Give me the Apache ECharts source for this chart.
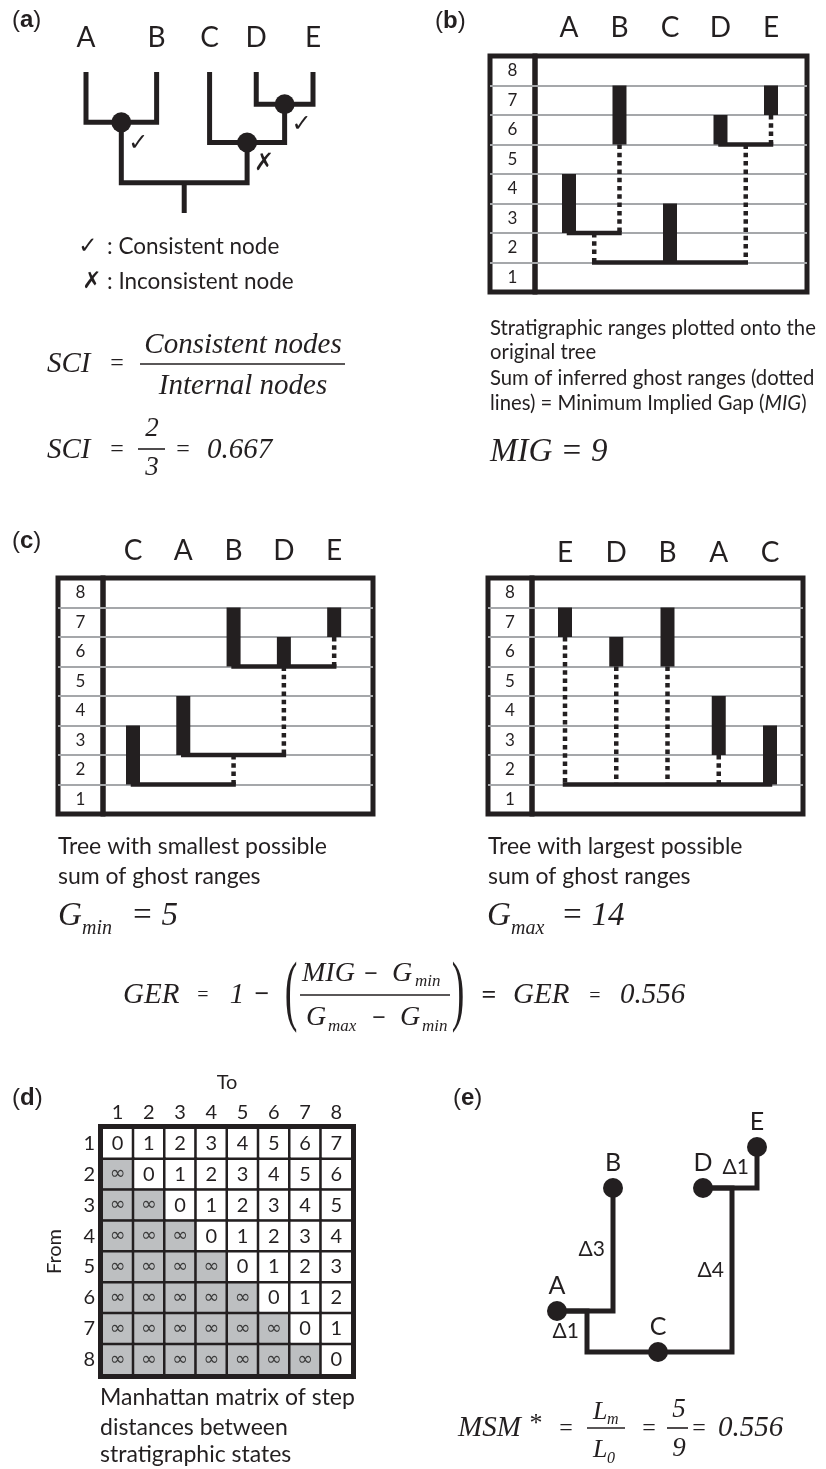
<!DOCTYPE html>
<html>
<head>
<meta charset="utf-8">
<title>Stratigraphic congruence indices</title>
<script src="https://cdn.jsdelivr.net/npm/echarts@6.0.0/dist/echarts.min.js"></script>
<style>
  html, body { margin: 0; padding: 0; background: #fff; }
  #chart { width: 826px; height: 1469px; }
</style>
</head>
<body>
<div id="chart"></div>
<script>
// ---------- data ----------
// (a) original tree: tips, internal nodes (children + node height), consistency marks
var treeTips = ['A', 'B', 'C', 'D', 'E'];
var treeTipSlot = [0, 2.8, 4.9, 6.75, 9];
var treeTipHeight = 14;
var treeNodes = ['AB', 'DE', 'CDE', 'root'];
var treeNodeKids = [['A', 'B'], ['D', 'E'], ['C', 'DE'], ['AB', 'CDE']];
var treeNodeHeight = [9, 10.8, 7, 3];
var treeNodeMark = ['\u2713', '\u2713', '\u2717', ''];

// (b) and (c) stratigraphic ranges, state boundaries on a 0-8 scale
var stateLabels = ['1', '2', '3', '4', '5', '6', '7', '8'];

var origOrder = ['A', 'B', 'C', 'D', 'E'];
var origBase = [2, 5, 1, 5, 6];
var origTop = [4, 7, 3, 6, 7];
var origBranches = [[1, 2, 2], [4, 5, 5], [1.5, 4.5, 1]];           // [from column, to column, level]
var origGhosts = [[2, 2, 5], [5, 5, 6], [1.5, 1, 2], [4.5, 1, 5]];  // [column, from, to]

var minOrder = ['C', 'A', 'B', 'D', 'E'];
var minBase = [1, 2, 5, 5, 6];
var minTop = [3, 4, 7, 6, 7];
var minBranches = [[1, 3, 1], [2, 4, 2], [3, 5, 5]];
var minGhosts = [[3, 1, 2], [4, 2, 5], [5, 5, 6]];

var maxOrder = ['E', 'D', 'B', 'A', 'C'];
var maxBase = [6, 5, 5, 2, 1];
var maxTop = [7, 6, 7, 4, 3];
var maxBranches = [[1, 5, 1]];
var maxGhosts = [[1, 1, 6], [2, 1, 5], [3, 1, 5], [4, 1, 2]];

// (d) Manhattan step matrix, from (rows) -> to (columns)
var matrixStates = ['1', '2', '3', '4', '5', '6', '7', '8'];
var stepMatrix = [
    ['0', '1', '2', '3', '4', '5', '6', '7'],
    ['\u221e', '0', '1', '2', '3', '4', '5', '6'],
    ['\u221e', '\u221e', '0', '1', '2', '3', '4', '5'],
    ['\u221e', '\u221e', '\u221e', '0', '1', '2', '3', '4'],
    ['\u221e', '\u221e', '\u221e', '\u221e', '0', '1', '2', '3'],
    ['\u221e', '\u221e', '\u221e', '\u221e', '\u221e', '0', '1', '2'],
    ['\u221e', '\u221e', '\u221e', '\u221e', '\u221e', '\u221e', '0', '1'],
    ['\u221e', '\u221e', '\u221e', '\u221e', '\u221e', '\u221e', '\u221e', '0']
];

// (e) minimum spanning tree of the states
var msmTaxa = ['A', 'B', 'C', 'D', 'E'];
var msmState = [1, 4, 0, 4, 5];
var msmSlot = [0, 2.8, 5.05, 7.3, 10];
var msmLinks = [['A', 'B'], ['A', 'C'], ['C', 'D'], ['D', 'E']];
var msmSteps = [3, 1, 4, 1];
var msmElbow = [2.8, 1.5, 8.75, 10];

// ---------- styles ----------
var INK = '#231f20';
var RULE = '#a5a7aa';
var INF_FILL = '#bdbfc1';
var SANS = 'Lato, "Open Sans", sans-serif';
var SERIF = '"Liberation Serif", "DejaVu Serif", serif';
var ARIAL = '"Liberation Sans", Arial, sans-serif';
var SYM = '"DejaVu Sans", sans-serif';

var grids = [], xAxes = [], yAxes = [], series = [], graphics = [];

function addGrid(rect, xa, ya) {
    rect.outerBoundsMode = 'none';
    rect.containLabel = false;
    grids.push(rect);
    xa.gridIndex = ya.gridIndex = grids.length - 1;
    xAxes.push(xa);
    yAxes.push(ya);
    return grids.length - 1;
}

function boxGrid(left, top, width, height, bw) {
    return { left: left, top: top, width: width, height: height, show: true,
             borderColor: INK, borderWidth: bw || 5, backgroundColor: 'rgba(0,0,0,0)' };
}

function textStyle(s, o) {
    o = o || {};
    var al = o.align || 'left';
    return {
        text: s, fill: INK,
        fontFamily: o.family || SANS, fontSize: o.size || 20,
        fontStyle: o.italic ? 'italic' : 'normal', fontWeight: o.bold ? 'bold' : 'normal',
        align: al, textAlign: al, verticalAlign: 'middle', textVerticalAlign: 'middle',
        rich: o.rich
    };
}

function addText(x, y, s, o) {
    o = o || {};
    graphics.push({ type: 'text', x: x, y: y, silent: true, scaleY: o.scaleY || 1, style: textStyle(s, o) });
}

function addRule(x1, x2, y, w) {
    graphics.push({ type: 'line', silent: true, shape: { x1: x1, y1: y, x2: x2, y2: y },
                    style: { stroke: INK, lineWidth: w || 1.5 } });
}

function segmentSeries(idx, segs, style, z) {
    return {
        type: 'custom', xAxisIndex: idx, yAxisIndex: idx, silent: true, z: z || 3,
        data: segs,
        renderItem: function (params, api) {
            var p = api.coord([api.value(0), api.value(1)]);
            var q = api.coord([api.value(2), api.value(3)]);
            return { type: 'line', shape: { x1: p[0], y1: p[1], x2: q[0], y2: q[1] }, style: style };
        }
    };
}

function textSeries(idx, pts, labels, dx, dy, o) {
    return {
        type: 'custom', xAxisIndex: idx, yAxisIndex: idx, silent: true, z: 6,
        data: pts,
        renderItem: function (params, api) {
            var p = api.coord([api.value(0), api.value(1)]);
            return { type: 'text', x: p[0] + dx, y: p[1] + dy, style: textStyle(labels[params.dataIndex], o) };
        }
    };
}

// ---------- (a) original tree ----------
var treePos = {};
treeTips.forEach(function (n, i) { treePos[n] = [treeTipSlot[i], treeTipHeight]; });
treeNodes.forEach(function (n, i) {
    var k1 = treePos[treeNodeKids[i][0]], k2 = treePos[treeNodeKids[i][1]];
    treePos[n] = [(k1[0] + k2[0]) / 2, treeNodeHeight[i]];
});

var ga = addGrid({ left: 86, top: 72, width: 227, height: 141, show: false },
    { type: 'value', min: 0, max: 9, show: false },
    { type: 'value', min: 0, max: 14, show: false });

series.push({
    type: 'custom', xAxisIndex: ga, yAxisIndex: ga, silent: true, z: 3,
    data: treeNodes.map(function (n, i) {
        var k1 = treePos[treeNodeKids[i][0]], k2 = treePos[treeNodeKids[i][1]];
        return [k1[0], k1[1], k2[0], k2[1], treeNodeHeight[i]];
    }),
    renderItem: function (params, api) {
        var a = api.coord([api.value(0), api.value(1)]);
        var na = api.coord([api.value(0), api.value(4)]);
        var nb = api.coord([api.value(2), api.value(4)]);
        var b = api.coord([api.value(2), api.value(3)]);
        return { type: 'polyline', shape: { points: [a, na, nb, b] },
                 style: { stroke: INK, lineWidth: 5, fill: null, lineJoin: 'miter' } };
    }
});
series.push(segmentSeries(ga, [[treePos.root[0], treePos.root[1], treePos.root[0], 0]],
    { stroke: INK, lineWidth: 5 }, 3));
series.push({
    type: 'scatter', xAxisIndex: ga, yAxisIndex: ga, silent: true, z: 5,
    symbolSize: 20, itemStyle: { color: INK, opacity: 1 },
    data: treeNodes.filter(function (n, i) { return treeNodeMark[i]; })
        .map(function (n) { return treePos[n]; }),
    label: { show: true, position: 'inside', offset: [17, 21], color: INK, opacity: 1,
             fontFamily: SYM, fontSize: 24,
             formatter: function (p) { return treeNodeMark[p.dataIndex]; } }
});
series.push(textSeries(ga, treeTips.map(function (n) { return treePos[n]; }), treeTips, 0, -34, { size: 28, align: 'center' }));

// ---------- (b), (c) range panels ----------
function rangePanel(box, order, base, top, branches, ghosts, colMin, colMax, letterDy) {
    addGrid(boxGrid(box.left, box.top, box.labelWidth, box.height),
        { type: 'value', min: 0, max: 1, show: false },
        { type: 'category', data: stateLabels, boundaryGap: true,
          axisLine: { show: false }, axisTick: { show: false },
          axisLabel: { inside: true, margin: box.labelWidth / 2, align: 'center', interval: 0,
                       fontFamily: SANS, fontSize: 17, color: INK },
          splitLine: { show: true, interval: 0, showMinLine: false, showMaxLine: false,
                       lineStyle: { color: RULE, width: 2 } } });
    var pg = addGrid(boxGrid(box.left + box.labelWidth, box.top, box.width - box.labelWidth, box.height),
        { type: 'value', min: colMin, max: colMax, show: false },
        { type: 'value', min: 0, max: 8, interval: 1,
          axisLine: { show: false }, axisTick: { show: false }, axisLabel: { show: false },
          splitLine: { show: true, showMinLine: false, showMaxLine: false,
                       lineStyle: { color: RULE, width: 2 } } });

    series.push(segmentSeries(pg, ghosts.map(function (g) { return [g[0], g[2], g[0], g[1]]; }),
        { stroke: INK, lineWidth: 4.5, lineDash: [4.5, 3.8] }, 2));
    series.push(segmentSeries(pg, branches.map(function (b) { return [b[0], b[2], b[1], b[2]]; }),
        { stroke: INK, lineWidth: 4.5, lineCap: 'square' }, 3));
    series.push({
        type: 'custom', xAxisIndex: pg, yAxisIndex: pg, silent: true, z: 4,
        data: order.map(function (n, i) { return [i + 1, base[i], top[i]]; }),
        renderItem: function (params, api) {
            var t = api.coord([api.value(0), api.value(2)]);
            var b = api.coord([api.value(0), api.value(1)]);
            return { type: 'rect', shape: { x: t[0] - 7, y: t[1], width: 14, height: b[1] - t[1] },
                     style: { fill: INK } };
        }
    });
    series.push(textSeries(pg, order.map(function (n, i) { return [i + 1, 8]; }), order, 0, letterDy,
        { size: 28, align: 'center' }));
}

rangePanel({ left: 490, top: 56, width: 317, height: 236, labelWidth: 45 },
    origOrder, origBase, origTop, origBranches, origGhosts, 0.327, 5.713, -28);
rangePanel({ left: 58, top: 578, width: 315, height: 236, labelWidth: 45 },
    minOrder, minBase, minTop, minBranches, minGhosts, 0.404, 5.772, -27);
rangePanel({ left: 488, top: 578, width: 315, height: 236, labelWidth: 44 },
    maxOrder, maxBase, maxTop, maxBranches, maxGhosts, 0.356, 5.644, -25);

// ---------- (d) step matrix ----------
var gd = addGrid(boxGrid(102, 1128, 250, 247, 8),
    { type: 'category', position: 'top', data: matrixStates,
      name: 'To', nameLocation: 'middle', nameGap: 35,
      nameTextStyle: { fontFamily: SANS, fontSize: 20, color: INK },
      axisLine: { show: false }, axisTick: { show: false }, splitLine: { show: false },
      axisLabel: { interval: 0, margin: 5, fontFamily: SANS, fontSize: 20, color: INK } },
    { type: 'category', inverse: true, data: matrixStates,
      name: 'From', nameLocation: 'middle', nameGap: 37, nameRotate: 90,
      nameTextStyle: { fontFamily: SANS, fontSize: 20, color: INK },
      axisLine: { show: false }, axisTick: { show: false }, splitLine: { show: false },
      axisLabel: { interval: 0, margin: 7, fontFamily: SANS, fontSize: 20, color: INK } });

var cells = [];
stepMatrix.forEach(function (row, i) {
    row.forEach(function (v, j) {
        var inf = v === '\u221e';
        cells.push({ value: [j, i, inf ? -1 : Number(v)],
                     itemStyle: { color: inf ? INF_FILL : '#ffffff' },
                     label: inf ? { fontSize: 19, fontFamily: SYM, color: '#3a3a3a' } : { fontSize: 20 } });
    });
});
series.push({
    type: 'heatmap', xAxisIndex: gd, yAxisIndex: gd, silent: true, z: 3,
    data: cells,
    itemStyle: { borderColor: INK, borderWidth: 2.5 },
    emphasis: { disabled: true },
    label: { show: true, color: INK, fontFamily: SANS,
             formatter: function (p) { return stepMatrix[p.value[1]][p.value[0]]; } }
});

// ---------- (e) MSM tree ----------
var ge = addGrid({ left: 557, top: 1147, width: 200, height: 205, show: false },
    { type: 'value', min: 0, max: 10, show: false },
    { type: 'value', min: 0, max: 5, show: false });

function msmIdx(n) { return msmTaxa.indexOf(n); }
series.push({
    type: 'custom', xAxisIndex: ge, yAxisIndex: ge, silent: true, z: 3,
    data: msmLinks.map(function (l, i) {
        var a = msmIdx(l[0]), b = msmIdx(l[1]);
        return [msmSlot[a], msmState[a], msmSlot[b], msmState[b], msmElbow[i], msmSteps[i]];
    }),
    renderItem: function (params, api) {
        var p = api.coord([api.value(0), api.value(1)]);
        var e1 = api.coord([api.value(4), api.value(1)]);
        var e2 = api.coord([api.value(4), api.value(3)]);
        var q = api.coord([api.value(2), api.value(3)]);
        return { type: 'group', children: [
            { type: 'polyline', shape: { points: [p, e1, e2, q] },
              style: { stroke: INK, lineWidth: 5, fill: null, lineJoin: 'miter' } },
            { type: 'text', x: e1[0] - 8, y: (e1[1] + e2[1]) / 2,
              style: textStyle('\u0394' + api.value(5), { size: 21, align: 'right' }) }
        ] };
    }
});
series.push({
    type: 'scatter', xAxisIndex: ge, yAxisIndex: ge, silent: true, z: 5,
    symbolSize: 20, itemStyle: { color: INK, opacity: 1 },
    data: msmTaxa.map(function (n, i) { return [msmSlot[i], msmState[i]]; }),
    label: { show: true, position: 'top', distance: 3, color: INK, opacity: 1,
             fontFamily: SANS, fontSize: 25,
             formatter: function (p) { return msmTaxa[p.dataIndex]; } }
});

// ---------- text: panel letters, captions, formulas ----------
var letterRich = { b: { fontWeight: 'bold', fontSize: 24, fontFamily: ARIAL, fill: INK } };
addText(12, 20, '({b|a})', { family: ARIAL, size: 24, rich: letterRich });
addText(435, 21, '({b|b})', { family: ARIAL, size: 24, rich: letterRich });
addText(12, 541, '({b|c})', { family: ARIAL, size: 24, rich: letterRich });
addText(12, 1098, '({b|d})', { family: ARIAL, size: 24, rich: letterRich });
addText(453, 1098, '({b|e})', { family: ARIAL, size: 24, rich: letterRich });

// (a) legend + SCI
addText(88, 247, '\u2713', { family: SYM, size: 23, align: 'center' });
addText(107, 247, ': Consistent node', { size: 22.5 });
addText(92, 282, '\u2717', { family: SYM, size: 23, align: 'center' });
addText(107, 282, ': Inconsistent node', { size: 22.5 });

var MI = { family: SERIF, italic: true, size: 29 };
function mi(extra) { var o = {}; for (var k in MI) o[k] = MI[k]; for (var k2 in extra) o[k2] = extra[k2]; return o; }
var EQ = { family: SERIF, size: 24, align: 'center' };

addText(47, 364, 'SCI', mi());
addText(117, 364, '=', EQ);
addText(243, 345, 'Consistent nodes', mi({ align: 'center' }));
addRule(140, 345, 364, 1.6);
addText(243, 386, 'Internal nodes', mi({ align: 'center' }));
addText(47, 450, 'SCI', mi());
addText(117, 450, '=', EQ);
addText(152, 429, '2', mi({ align: 'center', size: 27 }));
addRule(138, 165, 449, 1.6);
addText(152, 468, '3', mi({ align: 'center', size: 27 }));
addText(183, 450, '=', EQ);
addText(207, 450, '0.667', mi());

// (b) caption
var CAP_B = 20.3;
addText(490, 328, 'Stratigraphic ranges plotted onto the', { size: CAP_B });
addText(490, 352, 'original tree', { size: CAP_B });
addText(490, 378, 'Sum of inferred ghost ranges (dotted', { size: CAP_B });
addText(490, 403, 'lines) = Minimum Implied Gap ({i|MIG})',
    { size: CAP_B, rich: { i: { fontStyle: 'italic', fontSize: CAP_B, fontFamily: SANS, fill: INK } } });
addText(490, 452, 'MIG = 9', mi({ size: 33 }));

// (c) captions
var CAP_C = 23;
addText(58, 847, 'Tree with smallest possible', { size: CAP_C });
addText(58, 877, 'sum of ghost ranges', { size: CAP_C });
addText(488, 847, 'Tree with largest possible', { size: CAP_C });
addText(488, 877, 'sum of ghost ranges', { size: CAP_C });
addText(58, 916, 'G', mi({ size: 33 }));
addText(82, 929, 'min', mi({ size: 20 }));
addText(131, 916, '= 5', mi({ size: 33 }));
addText(487, 916, 'G', mi({ size: 33 }));
addText(511, 929, 'max', mi({ size: 20 }));
addText(561, 916, '= 14', mi({ size: 33 }));

// GER
addText(123, 995, 'GER', mi());
addText(203, 996, '=', { family: SERIF, size: 20, align: 'center' });
addText(237, 995, '1', mi({ align: 'center' }));
addText(262, 995, '\u2212', { family: SERIF, size: 26, bold: true, align: 'center' });
addText(291, 996, '(', { family: SERIF, size: 38, align: 'center', scaleY: 2.05 });
addText(302, 974, 'MIG', mi({ size: 28 }));
addText(371, 975, '\u2212', { family: SERIF, size: 24, bold: true, align: 'center' });
addText(392, 974, 'G', mi({ size: 28 }));
addText(415, 982, 'min', mi({ size: 17 }));
addRule(300, 450, 995, 1.6);
addText(306, 1018, 'G', mi({ size: 28 }));
addText(328, 1027, 'max', mi({ size: 17 }));
addText(379, 1019, '\u2212', { family: SERIF, size: 24, bold: true, align: 'center' });
addText(400, 1018, 'G', mi({ size: 28 }));
addText(422, 1027, 'min', mi({ size: 17 }));
addText(458, 996, ')', { family: SERIF, size: 38, align: 'center', scaleY: 2.05 });
addText(489, 996, '=', { family: SERIF, size: 26, bold: true, align: 'center' });
addText(513, 995, 'GER', mi());
addText(595, 997, '=', { family: SERIF, size: 20, align: 'center' });
addText(620, 995, '0.556', mi());

// (d) caption
var CAP_D = 23;
addText(100, 1398, 'Manhattan matrix of step', { size: CAP_D });
addText(100, 1428, 'distances between', { size: CAP_D });
addText(100, 1455, 'stratigraphic states', { size: CAP_D });

// (e) MSM*
addText(458, 1428, 'MSM', mi());
addText(536, 1424, '*', { family: SERIF, size: 26, align: 'center' });
addText(566, 1429, '=', EQ);
addText(593, 1412, 'L', mi({ size: 26 }));
addText(607, 1420, 'm', mi({ size: 16 }));
addRule(587, 625, 1428, 1.6);
addText(593, 1450, 'L', mi({ size: 26 }));
addText(607, 1459, '0', mi({ size: 16 }));
addText(649, 1429, '=', EQ);
addText(679, 1410, '5', mi({ size: 27, align: 'center' }));
addRule(667, 688, 1428, 1.6);
addText(679, 1449, '9', mi({ size: 27, align: 'center' }));
addText(699, 1429, '=', EQ);
addText(718, 1428, '0.556', mi());

// ---------- chart ----------
var myChart = echarts.init(document.getElementById('chart'));
myChart.setOption({
    backgroundColor: '#ffffff',
    animation: false,
    grid: grids,
    xAxis: xAxes,
    yAxis: yAxes,
    series: series,
    graphic: { elements: graphics }
});
</script>
</body>
</html>
